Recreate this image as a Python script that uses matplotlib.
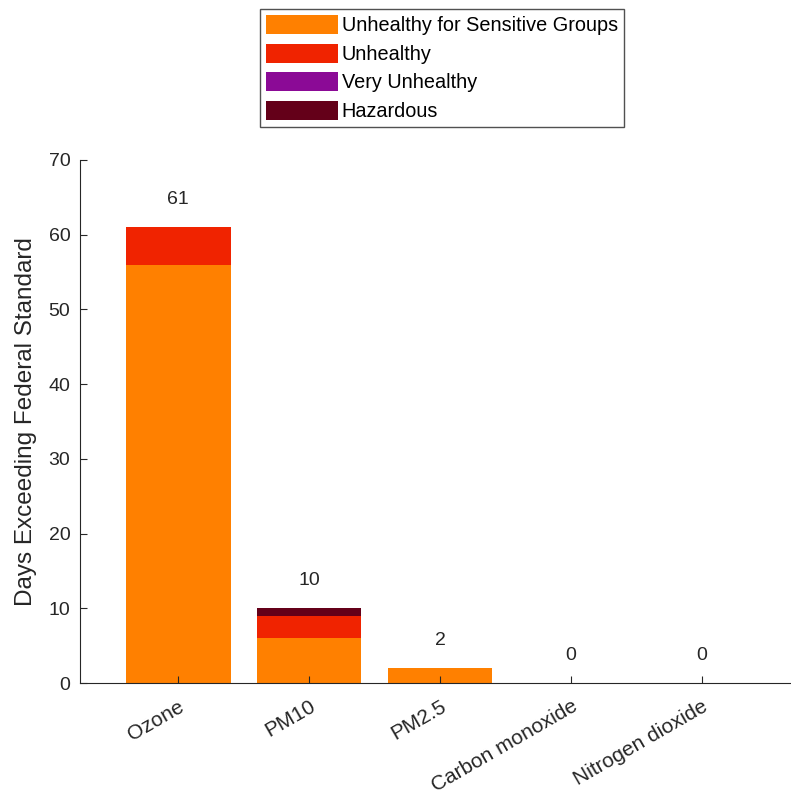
import numpy as np
import matplotlib.pyplot as plt
from matplotlib.patches import Patch

plt.rcParams['font.family'] = ['Liberation Sans', 'DejaVu Sans']

# datos
contaminantes = ['Ozone', 'PM10', 'PM2.5', 'Carbon monoxide', 'Nitrogen dioxide']
categorias = ['Unhealthy for Sensitive Groups', 'Unhealthy', 'Very Unhealthy', 'Hazardous']
sensibles = [56, 6, 2, 0, 0]
insalubre = [5, 3, 0, 0, 0]
muy_insalubre = [0, 0, 0, 0, 0]
peligroso = [0, 1, 0, 0, 0]
colores = ['#ff8000', '#f02300', '#8b0a96', '#640019']

gris = '#262626'
fig = plt.figure(figsize=(7.91, 7.98), dpi=100)
ax = fig.add_axes([80/791, 1 - 683/798, 720/791, 523/798])

x = np.arange(len(contaminantes))
series = [sensibles, insalubre, muy_insalubre, peligroso]
base = np.zeros(len(contaminantes))
for vals, col in zip(series, colores):
    ax.bar(x, vals, width=0.8, bottom=base, color=col, linewidth=0)
    base = base + np.array(vals)

for xi, tot in zip(x, base):
    ax.annotate(f'{int(tot)}', (xi, tot), xytext=(0, 20), textcoords='offset points',
                ha='center', va='center', fontsize=14, color=gris)

ax.set_xlim(-0.75, 4.75)
ax.set_ylim(0, 70)
ax.set_yticks(np.arange(0, 71, 10))
ax.set_xticks(x)
ax.set_xticklabels(contaminantes, rotation=30, ha='right', rotation_mode='anchor')
ax.tick_params(direction='in', length=5, colors=gris, labelsize=14, pad=7)
ax.tick_params(axis='x', pad=10, labelsize=15)
ax.spines['top'].set_visible(False)
ax.spines['right'].set_visible(False)
ax.spines['left'].set_color(gris)
ax.spines['bottom'].set_color(gris)
ax.set_ylabel('Days Exceeding Federal Standard', fontsize=17.5, color=gris, labelpad=8)

handles = [Patch(facecolor=c, edgecolor='none') for c in colores]
fig.legend(handles, categorias, loc='upper center', bbox_to_anchor=(442/791, 1 - 9/798),
           fontsize=14.3, frameon=True, fancybox=False, edgecolor=gris,
           handlelength=3.6, handleheight=1.1, labelspacing=0.42, borderpad=0.3,
           handletextpad=0.2, borderaxespad=0)

plt.savefig('out.png', dpi=100)
